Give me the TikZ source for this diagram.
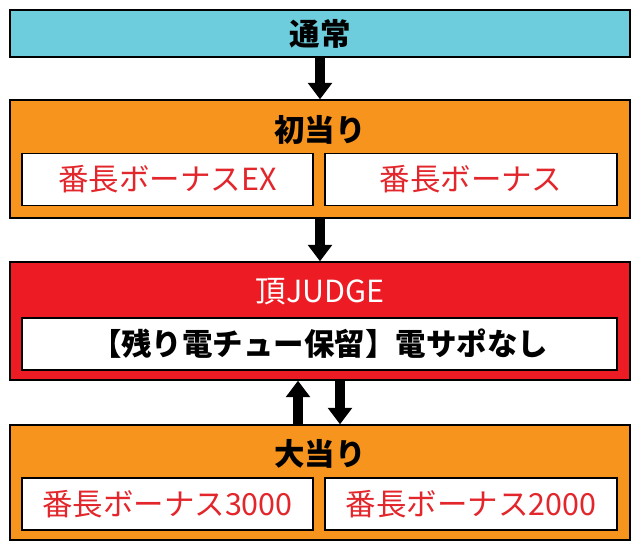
\documentclass[tikz,border=0pt]{standalone}
\usepackage{fontspec}
\setmainfont{Noto Sans CJK JP}
\usetikzlibrary{arrows.meta}
\definecolor{tsujo}{HTML}{6ECDDC}
\definecolor{atari}{HTML}{F7941D}
\definecolor{judge}{HTML}{ED1C24}
\definecolor{redtxt}{HTML}{E3262B}
\tikzset{
  bigbox/.style={draw=black,line width=1.2pt,minimum width=620*0.03cm,inner sep=0pt},
  subbox/.style={draw=black,fill=white,line width=1.2pt,minimum height=52*0.03cm,inner sep=0pt,font=\fontsize{26}{28}\selectfont},
  title/.style={font=\fontsize{26}{28}\selectfont\bfseries},
  flow/.style={line width=9pt,-{Triangle[length=14pt,width=20pt]}}
}
\begin{document}
\begin{tikzpicture}[x=0.03cm,y=-0.03cm]
\useasboundingbox (0,0) rectangle (640,552);
% boxes
\node[bigbox,fill=tsujo,minimum height=47*0.03cm,title] (tsujo) at (320,33.5) {通常};
\node[bigbox,fill=atari,minimum height=118*0.03cm] (shoatari) at (320,159) {};
\node[title] (shoT) at (320,130) {初当り};
\node[subbox,minimum width=291*0.03cm,text=redtxt] (ex) at (167.5,179.5) {番長ボーナスEX};
\node[subbox,minimum width=292*0.03cm,text=redtxt] (bb) at (471,179.5) {番長ボーナス};
\node[bigbox,fill=judge,minimum height=118*0.03cm] (judge) at (320,321) {};
\node[title,text=white,font=\fontsize{26}{28}\selectfont] (judgeT) at (320,292) {頂JUDGE};
\node[subbox,minimum width=595*0.03cm,font=\fontsize{26}{28}\selectfont\bfseries] (hold) at (319.5,344) {【残り電チュー保留】電サポなし};
\node[bigbox,fill=atari,minimum height=115*0.03cm] (ooatari) at (320,482.5) {};
\node[title] (ooT) at (320,454) {大当り};
\node[subbox,minimum width=291*0.03cm,text=redtxt] (b3) at (167.5,504) {番長ボーナス3000};
\node[subbox,minimum width=292*0.03cm,text=redtxt] (b2) at (471,504) {番長ボーナス2000};
% arrows
\draw[flow] (tsujo) -- (shoatari);
\draw[flow] (shoatari) -- (judge);
\draw[flow] ([xshift=-22*0.03cm]ooatari.north) -- ([xshift=-22*0.03cm]judge.south);
\draw[flow] ([xshift=20*0.03cm]judge.south) -- ([xshift=20*0.03cm]ooatari.north);
\end{tikzpicture}
\end{document}
